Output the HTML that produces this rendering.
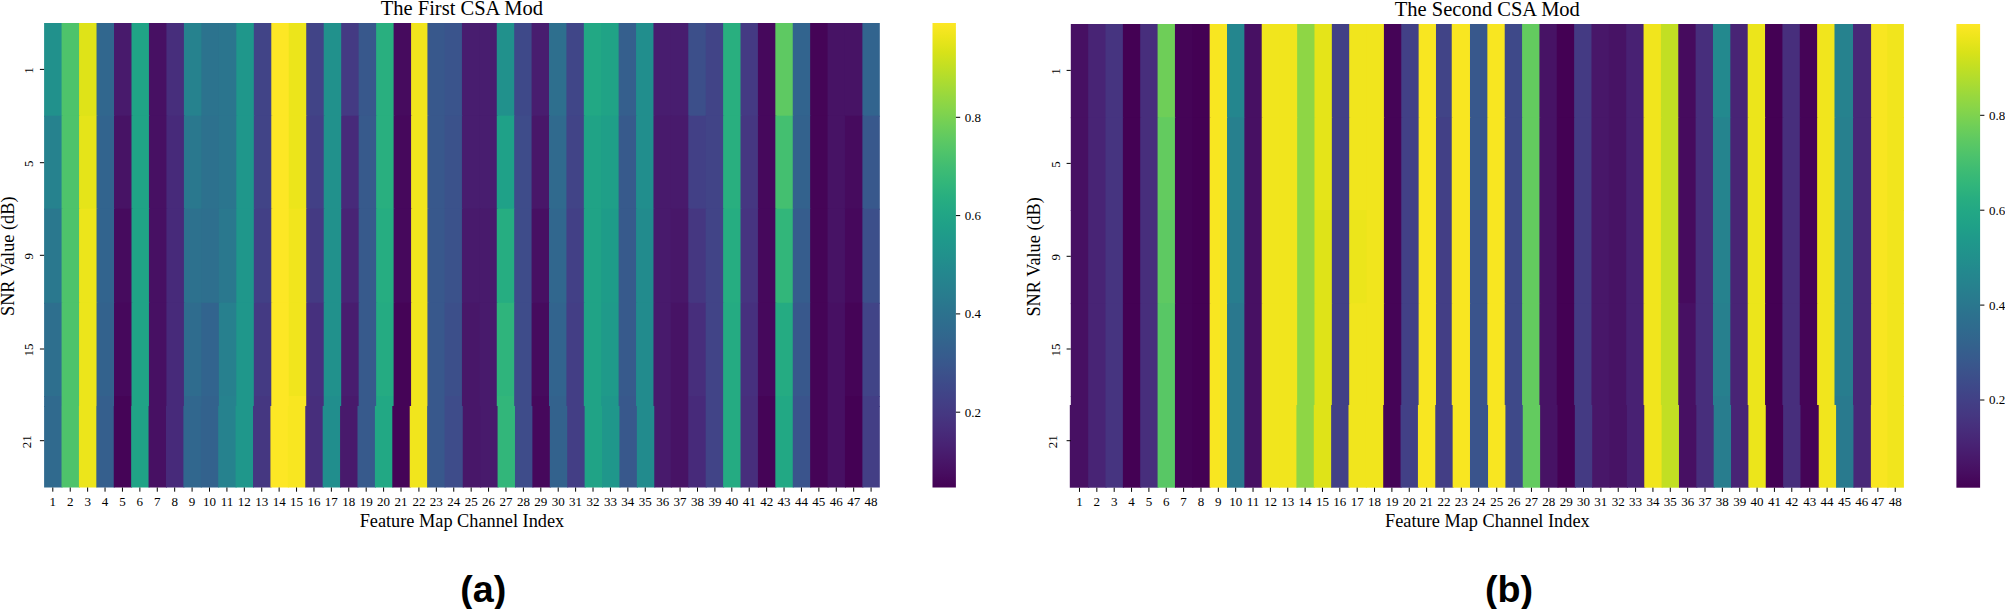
<!DOCTYPE html>
<html><head><meta charset="utf-8"><title>CSA Mod heatmaps</title>
<style>
html,body{margin:0;padding:0;background:#fff;}
svg{display:block;}
text{fill:#000;}
.tk{font-family:"Liberation Serif",serif;font-size:13px;}
.ti{font-family:"Liberation Serif",serif;font-size:20.5px;}
.al{font-family:"Liberation Serif",serif;font-size:18.3px;}
.cap{font-family:"Liberation Sans",sans-serif;font-weight:bold;font-size:37.7px;}
</style></head><body>
<svg width="2005" height="609" viewBox="0 0 2005 609">
<defs><linearGradient id="vg" x1="0" y1="0" x2="0" y2="1"><stop offset="0.000" stop-color="#fde725"/><stop offset="0.031" stop-color="#ece51b"/><stop offset="0.062" stop-color="#d8e219"/><stop offset="0.094" stop-color="#c2df23"/><stop offset="0.125" stop-color="#addc30"/><stop offset="0.156" stop-color="#98d83e"/><stop offset="0.188" stop-color="#84d44b"/><stop offset="0.219" stop-color="#70cf57"/><stop offset="0.250" stop-color="#5ec962"/><stop offset="0.281" stop-color="#4ec36b"/><stop offset="0.312" stop-color="#3fbc73"/><stop offset="0.344" stop-color="#32b67a"/><stop offset="0.375" stop-color="#28ae80"/><stop offset="0.406" stop-color="#22a785"/><stop offset="0.438" stop-color="#1fa088"/><stop offset="0.469" stop-color="#1f988b"/><stop offset="0.500" stop-color="#21918c"/><stop offset="0.531" stop-color="#23898e"/><stop offset="0.562" stop-color="#26828e"/><stop offset="0.594" stop-color="#297a8e"/><stop offset="0.625" stop-color="#2c728e"/><stop offset="0.656" stop-color="#2f6b8e"/><stop offset="0.688" stop-color="#33638d"/><stop offset="0.719" stop-color="#375b8d"/><stop offset="0.750" stop-color="#3b528b"/><stop offset="0.781" stop-color="#3e4989"/><stop offset="0.812" stop-color="#424086"/><stop offset="0.844" stop-color="#453781"/><stop offset="0.875" stop-color="#472d7b"/><stop offset="0.906" stop-color="#482374"/><stop offset="0.938" stop-color="#48186a"/><stop offset="0.969" stop-color="#470d60"/><stop offset="1.000" stop-color="#440154"/></linearGradient></defs>
<g>
<rect x="44.10" y="23.00" width="18.48" height="93.70" fill="#21918c"/>
<rect x="61.58" y="23.00" width="18.48" height="93.70" fill="#4ec36b"/>
<rect x="79.05" y="23.00" width="18.48" height="93.70" fill="#dfe318"/>
<rect x="96.53" y="23.00" width="18.48" height="93.70" fill="#31678e"/>
<rect x="114.00" y="23.00" width="18.48" height="93.70" fill="#481a6c"/>
<rect x="131.48" y="23.00" width="18.48" height="93.70" fill="#20a386"/>
<rect x="148.95" y="23.00" width="18.48" height="93.70" fill="#471063"/>
<rect x="166.43" y="23.00" width="18.48" height="93.70" fill="#472e7c"/>
<rect x="183.90" y="23.00" width="18.48" height="93.70" fill="#26828e"/>
<rect x="201.38" y="23.00" width="18.48" height="93.70" fill="#2c738e"/>
<rect x="218.85" y="23.00" width="18.48" height="93.70" fill="#2b758e"/>
<rect x="236.33" y="23.00" width="18.48" height="93.70" fill="#1f978b"/>
<rect x="253.81" y="23.00" width="18.48" height="93.70" fill="#414487"/>
<rect x="271.28" y="23.00" width="18.48" height="93.70" fill="#fde725"/>
<rect x="288.76" y="23.00" width="18.48" height="93.70" fill="#ece51b"/>
<rect x="306.23" y="23.00" width="18.48" height="93.70" fill="#414487"/>
<rect x="323.71" y="23.00" width="18.48" height="93.70" fill="#21918c"/>
<rect x="341.18" y="23.00" width="18.48" height="93.70" fill="#443a83"/>
<rect x="358.66" y="23.00" width="18.48" height="93.70" fill="#38588c"/>
<rect x="376.13" y="23.00" width="18.48" height="93.70" fill="#29af7f"/>
<rect x="393.61" y="23.00" width="18.48" height="93.70" fill="#460b5e"/>
<rect x="411.08" y="23.00" width="17.35" height="93.70" fill="#f1e51d"/>
<rect x="427.43" y="23.00" width="18.11" height="93.70" fill="#38588c"/>
<rect x="444.54" y="23.00" width="18.41" height="93.70" fill="#3a548c"/>
<rect x="461.95" y="23.00" width="18.41" height="93.70" fill="#481d6f"/>
<rect x="479.36" y="23.00" width="18.41" height="93.70" fill="#481d6f"/>
<rect x="496.77" y="23.00" width="18.41" height="93.70" fill="#21918c"/>
<rect x="514.18" y="23.00" width="18.41" height="93.70" fill="#3e4989"/>
<rect x="531.59" y="23.00" width="18.41" height="93.70" fill="#481d6f"/>
<rect x="549.00" y="23.00" width="18.41" height="93.70" fill="#2e6f8e"/>
<rect x="566.41" y="23.00" width="18.41" height="93.70" fill="#404688"/>
<rect x="583.82" y="23.00" width="18.41" height="93.70" fill="#22a884"/>
<rect x="601.23" y="23.00" width="18.41" height="93.70" fill="#20a386"/>
<rect x="618.64" y="23.00" width="18.41" height="93.70" fill="#355f8d"/>
<rect x="636.05" y="23.00" width="18.41" height="93.70" fill="#218e8d"/>
<rect x="653.46" y="23.00" width="18.41" height="93.70" fill="#481d6f"/>
<rect x="670.88" y="23.00" width="18.41" height="93.70" fill="#481d6f"/>
<rect x="688.29" y="23.00" width="18.41" height="93.70" fill="#3c4f8a"/>
<rect x="705.70" y="23.00" width="18.41" height="93.70" fill="#414487"/>
<rect x="723.11" y="23.00" width="18.41" height="93.70" fill="#29af7f"/>
<rect x="740.52" y="23.00" width="18.41" height="93.70" fill="#443a83"/>
<rect x="757.93" y="23.00" width="18.41" height="93.70" fill="#46085c"/>
<rect x="775.34" y="23.00" width="18.41" height="93.70" fill="#5ec962"/>
<rect x="792.75" y="23.00" width="18.41" height="93.70" fill="#32648e"/>
<rect x="810.16" y="23.00" width="18.41" height="93.70" fill="#450457"/>
<rect x="827.57" y="23.00" width="18.41" height="93.70" fill="#471365"/>
<rect x="844.98" y="23.00" width="18.41" height="93.70" fill="#471365"/>
<rect x="862.39" y="23.00" width="17.41" height="93.70" fill="#32648e"/>
<rect x="44.10" y="115.70" width="18.48" height="94.00" fill="#26828e"/>
<rect x="61.58" y="115.70" width="18.48" height="94.00" fill="#4ec36b"/>
<rect x="79.05" y="115.70" width="18.48" height="94.00" fill="#e5e419"/>
<rect x="96.53" y="115.70" width="18.48" height="94.00" fill="#32648e"/>
<rect x="114.00" y="115.70" width="18.48" height="94.00" fill="#471365"/>
<rect x="131.48" y="115.70" width="18.48" height="94.00" fill="#20a386"/>
<rect x="148.95" y="115.70" width="18.48" height="94.00" fill="#471063"/>
<rect x="166.43" y="115.70" width="18.48" height="94.00" fill="#472a7a"/>
<rect x="183.90" y="115.70" width="18.48" height="94.00" fill="#2a788e"/>
<rect x="201.38" y="115.70" width="18.48" height="94.00" fill="#2d718e"/>
<rect x="218.85" y="115.70" width="18.48" height="94.00" fill="#2b758e"/>
<rect x="236.33" y="115.70" width="18.48" height="94.00" fill="#1f978b"/>
<rect x="253.81" y="115.70" width="18.48" height="94.00" fill="#414487"/>
<rect x="271.28" y="115.70" width="18.48" height="94.00" fill="#fde725"/>
<rect x="288.76" y="115.70" width="18.48" height="94.00" fill="#ece51b"/>
<rect x="306.23" y="115.70" width="18.48" height="94.00" fill="#424086"/>
<rect x="323.71" y="115.70" width="18.48" height="94.00" fill="#21918c"/>
<rect x="341.18" y="115.70" width="18.48" height="94.00" fill="#472a7a"/>
<rect x="358.66" y="115.70" width="18.48" height="94.00" fill="#375a8c"/>
<rect x="376.13" y="115.70" width="18.48" height="94.00" fill="#29af7f"/>
<rect x="393.61" y="115.70" width="18.48" height="94.00" fill="#46085c"/>
<rect x="411.08" y="115.70" width="17.35" height="94.00" fill="#f1e51d"/>
<rect x="427.43" y="115.70" width="18.11" height="94.00" fill="#38588c"/>
<rect x="444.54" y="115.70" width="18.41" height="94.00" fill="#3b528b"/>
<rect x="461.95" y="115.70" width="18.41" height="94.00" fill="#481d6f"/>
<rect x="479.36" y="115.70" width="18.41" height="94.00" fill="#481d6f"/>
<rect x="496.77" y="115.70" width="18.41" height="94.00" fill="#1fa188"/>
<rect x="514.18" y="115.70" width="18.41" height="94.00" fill="#3e4c8a"/>
<rect x="531.59" y="115.70" width="18.41" height="94.00" fill="#481769"/>
<rect x="549.00" y="115.70" width="18.41" height="94.00" fill="#306a8e"/>
<rect x="566.41" y="115.70" width="18.41" height="94.00" fill="#414487"/>
<rect x="583.82" y="115.70" width="18.41" height="94.00" fill="#20a386"/>
<rect x="601.23" y="115.70" width="18.41" height="94.00" fill="#1f9f88"/>
<rect x="618.64" y="115.70" width="18.41" height="94.00" fill="#375a8c"/>
<rect x="636.05" y="115.70" width="18.41" height="94.00" fill="#218e8d"/>
<rect x="653.46" y="115.70" width="18.41" height="94.00" fill="#481a6c"/>
<rect x="670.88" y="115.70" width="18.41" height="94.00" fill="#481a6c"/>
<rect x="688.29" y="115.70" width="18.41" height="94.00" fill="#424086"/>
<rect x="705.70" y="115.70" width="18.41" height="94.00" fill="#414487"/>
<rect x="723.11" y="115.70" width="18.41" height="94.00" fill="#29af7f"/>
<rect x="740.52" y="115.70" width="18.41" height="94.00" fill="#453781"/>
<rect x="757.93" y="115.70" width="18.41" height="94.00" fill="#46085c"/>
<rect x="775.34" y="115.70" width="18.41" height="94.00" fill="#44bf70"/>
<rect x="792.75" y="115.70" width="18.41" height="94.00" fill="#33628d"/>
<rect x="810.16" y="115.70" width="18.41" height="94.00" fill="#450457"/>
<rect x="827.57" y="115.70" width="18.41" height="94.00" fill="#471365"/>
<rect x="844.98" y="115.70" width="18.41" height="94.00" fill="#460b5e"/>
<rect x="862.39" y="115.70" width="17.41" height="94.00" fill="#38588c"/>
<rect x="44.10" y="208.70" width="18.48" height="95.10" fill="#2a788e"/>
<rect x="61.58" y="208.70" width="18.48" height="95.10" fill="#4ec36b"/>
<rect x="79.05" y="208.70" width="18.48" height="95.10" fill="#ece51b"/>
<rect x="96.53" y="208.70" width="18.48" height="95.10" fill="#32648e"/>
<rect x="114.00" y="208.70" width="18.48" height="95.10" fill="#460b5e"/>
<rect x="131.48" y="208.70" width="18.48" height="95.10" fill="#20a386"/>
<rect x="148.95" y="208.70" width="18.48" height="95.10" fill="#471063"/>
<rect x="166.43" y="208.70" width="18.48" height="95.10" fill="#472a7a"/>
<rect x="183.90" y="208.70" width="18.48" height="95.10" fill="#2d718e"/>
<rect x="201.38" y="208.70" width="18.48" height="95.10" fill="#2e6f8e"/>
<rect x="218.85" y="208.70" width="18.48" height="95.10" fill="#2a788e"/>
<rect x="236.33" y="208.70" width="18.48" height="95.10" fill="#1f978b"/>
<rect x="253.81" y="208.70" width="18.48" height="95.10" fill="#424086"/>
<rect x="271.28" y="208.70" width="18.48" height="95.10" fill="#fde725"/>
<rect x="288.76" y="208.70" width="18.48" height="95.10" fill="#f1e51d"/>
<rect x="306.23" y="208.70" width="18.48" height="95.10" fill="#443a83"/>
<rect x="323.71" y="208.70" width="18.48" height="95.10" fill="#21918c"/>
<rect x="341.18" y="208.70" width="18.48" height="95.10" fill="#482475"/>
<rect x="358.66" y="208.70" width="18.48" height="95.10" fill="#375a8c"/>
<rect x="376.13" y="208.70" width="18.48" height="95.10" fill="#26ad81"/>
<rect x="393.61" y="208.70" width="18.48" height="95.10" fill="#46085c"/>
<rect x="411.08" y="208.70" width="17.35" height="95.10" fill="#f1e51d"/>
<rect x="427.43" y="208.70" width="18.11" height="95.10" fill="#38588c"/>
<rect x="444.54" y="208.70" width="18.41" height="95.10" fill="#3b528b"/>
<rect x="461.95" y="208.70" width="18.41" height="95.10" fill="#481a6c"/>
<rect x="479.36" y="208.70" width="18.41" height="95.10" fill="#481a6c"/>
<rect x="496.77" y="208.70" width="18.41" height="95.10" fill="#26ad81"/>
<rect x="514.18" y="208.70" width="18.41" height="95.10" fill="#3e4c8a"/>
<rect x="531.59" y="208.70" width="18.41" height="95.10" fill="#471063"/>
<rect x="549.00" y="208.70" width="18.41" height="95.10" fill="#31678e"/>
<rect x="566.41" y="208.70" width="18.41" height="95.10" fill="#424086"/>
<rect x="583.82" y="208.70" width="18.41" height="95.10" fill="#20a386"/>
<rect x="601.23" y="208.70" width="18.41" height="95.10" fill="#1e9c89"/>
<rect x="618.64" y="208.70" width="18.41" height="95.10" fill="#375a8c"/>
<rect x="636.05" y="208.70" width="18.41" height="95.10" fill="#228b8d"/>
<rect x="653.46" y="208.70" width="18.41" height="95.10" fill="#481a6c"/>
<rect x="670.88" y="208.70" width="18.41" height="95.10" fill="#481769"/>
<rect x="688.29" y="208.70" width="18.41" height="95.10" fill="#453781"/>
<rect x="705.70" y="208.70" width="18.41" height="95.10" fill="#414487"/>
<rect x="723.11" y="208.70" width="18.41" height="95.10" fill="#26ad81"/>
<rect x="740.52" y="208.70" width="18.41" height="95.10" fill="#463480"/>
<rect x="757.93" y="208.70" width="18.41" height="95.10" fill="#46085c"/>
<rect x="775.34" y="208.70" width="18.41" height="95.10" fill="#32b67a"/>
<rect x="792.75" y="208.70" width="18.41" height="95.10" fill="#365d8d"/>
<rect x="810.16" y="208.70" width="18.41" height="95.10" fill="#450457"/>
<rect x="827.57" y="208.70" width="18.41" height="95.10" fill="#471365"/>
<rect x="844.98" y="208.70" width="18.41" height="95.10" fill="#46085c"/>
<rect x="862.39" y="208.70" width="17.41" height="95.10" fill="#3c4f8a"/>
<rect x="44.10" y="302.80" width="18.48" height="94.20" fill="#2e6f8e"/>
<rect x="61.58" y="302.80" width="18.48" height="94.20" fill="#4ec36b"/>
<rect x="79.05" y="302.80" width="18.48" height="94.20" fill="#ece51b"/>
<rect x="96.53" y="302.80" width="18.48" height="94.20" fill="#33628d"/>
<rect x="114.00" y="302.80" width="18.48" height="94.20" fill="#46085c"/>
<rect x="131.48" y="302.80" width="18.48" height="94.20" fill="#20a386"/>
<rect x="148.95" y="302.80" width="18.48" height="94.20" fill="#471063"/>
<rect x="166.43" y="302.80" width="18.48" height="94.20" fill="#472a7a"/>
<rect x="183.90" y="302.80" width="18.48" height="94.20" fill="#2f6c8e"/>
<rect x="201.38" y="302.80" width="18.48" height="94.20" fill="#32648e"/>
<rect x="218.85" y="302.80" width="18.48" height="94.20" fill="#27808e"/>
<rect x="236.33" y="302.80" width="18.48" height="94.20" fill="#1f978b"/>
<rect x="253.81" y="302.80" width="18.48" height="94.20" fill="#443a83"/>
<rect x="271.28" y="302.80" width="18.48" height="94.20" fill="#fde725"/>
<rect x="288.76" y="302.80" width="18.48" height="94.20" fill="#f1e51d"/>
<rect x="306.23" y="302.80" width="18.48" height="94.20" fill="#46307e"/>
<rect x="323.71" y="302.80" width="18.48" height="94.20" fill="#21918c"/>
<rect x="341.18" y="302.80" width="18.48" height="94.20" fill="#481d6f"/>
<rect x="358.66" y="302.80" width="18.48" height="94.20" fill="#375a8c"/>
<rect x="376.13" y="302.80" width="18.48" height="94.20" fill="#25ab82"/>
<rect x="393.61" y="302.80" width="18.48" height="94.20" fill="#450457"/>
<rect x="411.08" y="302.80" width="17.35" height="94.20" fill="#f1e51d"/>
<rect x="427.43" y="302.80" width="18.11" height="94.20" fill="#38588c"/>
<rect x="444.54" y="302.80" width="18.41" height="94.20" fill="#3c4f8a"/>
<rect x="461.95" y="302.80" width="18.41" height="94.20" fill="#481769"/>
<rect x="479.36" y="302.80" width="18.41" height="94.20" fill="#481a6c"/>
<rect x="496.77" y="302.80" width="18.41" height="94.20" fill="#2fb47c"/>
<rect x="514.18" y="302.80" width="18.41" height="94.20" fill="#3e4c8a"/>
<rect x="531.59" y="302.80" width="18.41" height="94.20" fill="#460b5e"/>
<rect x="549.00" y="302.80" width="18.41" height="94.20" fill="#32648e"/>
<rect x="566.41" y="302.80" width="18.41" height="94.20" fill="#433e85"/>
<rect x="583.82" y="302.80" width="18.41" height="94.20" fill="#20a386"/>
<rect x="601.23" y="302.80" width="18.41" height="94.20" fill="#1f9a8a"/>
<rect x="618.64" y="302.80" width="18.41" height="94.20" fill="#375a8c"/>
<rect x="636.05" y="302.80" width="18.41" height="94.20" fill="#228b8d"/>
<rect x="653.46" y="302.80" width="18.41" height="94.20" fill="#481a6c"/>
<rect x="670.88" y="302.80" width="18.41" height="94.20" fill="#471365"/>
<rect x="688.29" y="302.80" width="18.41" height="94.20" fill="#472e7c"/>
<rect x="705.70" y="302.80" width="18.41" height="94.20" fill="#414487"/>
<rect x="723.11" y="302.80" width="18.41" height="94.20" fill="#25ab82"/>
<rect x="740.52" y="302.80" width="18.41" height="94.20" fill="#46307e"/>
<rect x="757.93" y="302.80" width="18.41" height="94.20" fill="#46085c"/>
<rect x="775.34" y="302.80" width="18.41" height="94.20" fill="#25ab82"/>
<rect x="792.75" y="302.80" width="18.41" height="94.20" fill="#38588c"/>
<rect x="810.16" y="302.80" width="18.41" height="94.20" fill="#450457"/>
<rect x="827.57" y="302.80" width="18.41" height="94.20" fill="#471063"/>
<rect x="844.98" y="302.80" width="18.41" height="94.20" fill="#450457"/>
<rect x="862.39" y="302.80" width="17.41" height="94.20" fill="#414487"/>
<rect x="44.10" y="396.00" width="18.48" height="11.00" fill="#306a8e"/>
<rect x="61.58" y="396.00" width="18.48" height="11.00" fill="#4ec36b"/>
<rect x="79.05" y="396.00" width="18.48" height="11.00" fill="#ece51b"/>
<rect x="96.53" y="396.00" width="18.48" height="11.00" fill="#355f8d"/>
<rect x="114.00" y="396.00" width="18.48" height="11.00" fill="#450457"/>
<rect x="131.48" y="396.00" width="18.48" height="11.00" fill="#20a386"/>
<rect x="148.95" y="396.00" width="18.48" height="11.00" fill="#471063"/>
<rect x="166.43" y="396.00" width="18.48" height="11.00" fill="#472a7a"/>
<rect x="183.90" y="396.00" width="18.48" height="11.00" fill="#31678e"/>
<rect x="201.38" y="396.00" width="18.48" height="11.00" fill="#33628d"/>
<rect x="218.85" y="396.00" width="18.48" height="11.00" fill="#26828e"/>
<rect x="236.33" y="396.00" width="18.48" height="11.00" fill="#1f978b"/>
<rect x="253.81" y="396.00" width="18.48" height="11.00" fill="#453781"/>
<rect x="271.28" y="396.00" width="18.48" height="11.00" fill="#fde725"/>
<rect x="288.76" y="396.00" width="18.48" height="11.00" fill="#f8e621"/>
<rect x="306.23" y="396.00" width="18.48" height="11.00" fill="#472e7c"/>
<rect x="323.71" y="396.00" width="18.48" height="11.00" fill="#218e8d"/>
<rect x="341.18" y="396.00" width="18.48" height="11.00" fill="#481a6c"/>
<rect x="358.66" y="396.00" width="18.48" height="11.00" fill="#375a8c"/>
<rect x="376.13" y="396.00" width="18.48" height="11.00" fill="#22a884"/>
<rect x="393.61" y="396.00" width="18.48" height="11.00" fill="#450457"/>
<rect x="411.08" y="396.00" width="17.35" height="11.00" fill="#f1e51d"/>
<rect x="427.43" y="396.00" width="18.11" height="11.00" fill="#38588c"/>
<rect x="444.54" y="396.00" width="18.41" height="11.00" fill="#3e4c8a"/>
<rect x="461.95" y="396.00" width="18.41" height="11.00" fill="#481769"/>
<rect x="479.36" y="396.00" width="18.41" height="11.00" fill="#481a6c"/>
<rect x="496.77" y="396.00" width="18.41" height="11.00" fill="#32b67a"/>
<rect x="514.18" y="396.00" width="18.41" height="11.00" fill="#3e4c8a"/>
<rect x="531.59" y="396.00" width="18.41" height="11.00" fill="#46085c"/>
<rect x="549.00" y="396.00" width="18.41" height="11.00" fill="#33628d"/>
<rect x="566.41" y="396.00" width="18.41" height="11.00" fill="#433e85"/>
<rect x="583.82" y="396.00" width="18.41" height="11.00" fill="#20a386"/>
<rect x="601.23" y="396.00" width="18.41" height="11.00" fill="#1f978b"/>
<rect x="618.64" y="396.00" width="18.41" height="11.00" fill="#38588c"/>
<rect x="636.05" y="396.00" width="18.41" height="11.00" fill="#228b8d"/>
<rect x="653.46" y="396.00" width="18.41" height="11.00" fill="#481a6c"/>
<rect x="670.88" y="396.00" width="18.41" height="11.00" fill="#471365"/>
<rect x="688.29" y="396.00" width="18.41" height="11.00" fill="#472a7a"/>
<rect x="705.70" y="396.00" width="18.41" height="11.00" fill="#414487"/>
<rect x="723.11" y="396.00" width="18.41" height="11.00" fill="#25ab82"/>
<rect x="740.52" y="396.00" width="18.41" height="11.00" fill="#472e7c"/>
<rect x="757.93" y="396.00" width="18.41" height="11.00" fill="#450457"/>
<rect x="775.34" y="396.00" width="18.41" height="11.00" fill="#22a884"/>
<rect x="792.75" y="396.00" width="18.41" height="11.00" fill="#3a548c"/>
<rect x="810.16" y="396.00" width="18.41" height="11.00" fill="#450457"/>
<rect x="827.57" y="396.00" width="18.41" height="11.00" fill="#471063"/>
<rect x="844.98" y="396.00" width="18.41" height="11.00" fill="#440154"/>
<rect x="862.39" y="396.00" width="17.41" height="11.00" fill="#433e85"/>
<rect x="44.10" y="406.00" width="18.41" height="81.50" fill="#306a8e"/>
<rect x="61.51" y="406.00" width="18.41" height="81.50" fill="#4ec36b"/>
<rect x="78.92" y="406.00" width="18.41" height="81.50" fill="#ece51b"/>
<rect x="96.33" y="406.00" width="18.41" height="81.50" fill="#355f8d"/>
<rect x="113.74" y="406.00" width="18.41" height="81.50" fill="#450457"/>
<rect x="131.15" y="406.00" width="18.41" height="81.50" fill="#20a386"/>
<rect x="148.56" y="406.00" width="18.41" height="81.50" fill="#471063"/>
<rect x="165.97" y="406.00" width="18.41" height="81.50" fill="#472a7a"/>
<rect x="183.38" y="406.00" width="18.41" height="81.50" fill="#31678e"/>
<rect x="200.79" y="406.00" width="18.41" height="81.50" fill="#33628d"/>
<rect x="218.20" y="406.00" width="18.41" height="81.50" fill="#26828e"/>
<rect x="235.61" y="406.00" width="18.41" height="81.50" fill="#1f978b"/>
<rect x="253.03" y="406.00" width="18.41" height="81.50" fill="#453781"/>
<rect x="270.44" y="406.00" width="18.41" height="81.50" fill="#fde725"/>
<rect x="287.85" y="406.00" width="18.41" height="81.50" fill="#f8e621"/>
<rect x="305.26" y="406.00" width="18.41" height="81.50" fill="#472e7c"/>
<rect x="322.67" y="406.00" width="18.41" height="81.50" fill="#218e8d"/>
<rect x="340.08" y="406.00" width="18.41" height="81.50" fill="#481a6c"/>
<rect x="357.49" y="406.00" width="18.41" height="81.50" fill="#375a8c"/>
<rect x="374.90" y="406.00" width="18.41" height="81.50" fill="#22a884"/>
<rect x="392.31" y="406.00" width="18.41" height="81.50" fill="#450457"/>
<rect x="409.72" y="406.00" width="18.41" height="81.50" fill="#f1e51d"/>
<rect x="427.13" y="406.00" width="18.41" height="81.50" fill="#38588c"/>
<rect x="444.54" y="406.00" width="19.21" height="81.50" fill="#3e4c8a"/>
<rect x="462.75" y="406.00" width="18.41" height="81.50" fill="#481769"/>
<rect x="480.16" y="406.00" width="18.41" height="81.50" fill="#481a6c"/>
<rect x="497.57" y="406.00" width="18.41" height="81.50" fill="#32b67a"/>
<rect x="514.98" y="406.00" width="18.41" height="81.50" fill="#3e4c8a"/>
<rect x="532.39" y="406.00" width="18.41" height="81.50" fill="#46085c"/>
<rect x="549.80" y="406.00" width="18.41" height="81.50" fill="#33628d"/>
<rect x="567.21" y="406.00" width="18.41" height="81.50" fill="#433e85"/>
<rect x="584.62" y="406.00" width="18.41" height="81.50" fill="#20a386"/>
<rect x="602.03" y="406.00" width="18.41" height="81.50" fill="#1f978b"/>
<rect x="619.44" y="406.00" width="18.41" height="81.50" fill="#38588c"/>
<rect x="636.85" y="406.00" width="18.41" height="81.50" fill="#228b8d"/>
<rect x="654.26" y="406.00" width="17.61" height="81.50" fill="#481a6c"/>
<rect x="670.88" y="406.00" width="18.41" height="81.50" fill="#471365"/>
<rect x="688.29" y="406.00" width="18.41" height="81.50" fill="#472a7a"/>
<rect x="705.70" y="406.00" width="18.41" height="81.50" fill="#414487"/>
<rect x="723.11" y="406.00" width="18.41" height="81.50" fill="#25ab82"/>
<rect x="740.52" y="406.00" width="18.41" height="81.50" fill="#472e7c"/>
<rect x="757.93" y="406.00" width="18.41" height="81.50" fill="#450457"/>
<rect x="775.34" y="406.00" width="18.41" height="81.50" fill="#22a884"/>
<rect x="792.75" y="406.00" width="18.41" height="81.50" fill="#3a548c"/>
<rect x="810.16" y="406.00" width="18.41" height="81.50" fill="#450457"/>
<rect x="827.57" y="406.00" width="18.41" height="81.50" fill="#471063"/>
<rect x="844.98" y="406.00" width="18.41" height="81.50" fill="#440154"/>
<rect x="862.39" y="406.00" width="17.41" height="81.50" fill="#433e85"/>
<rect x="1070.80" y="24.00" width="18.36" height="94.20" fill="#471063"/>
<rect x="1088.16" y="24.00" width="18.36" height="94.20" fill="#482475"/>
<rect x="1105.51" y="24.00" width="18.36" height="94.20" fill="#463480"/>
<rect x="1122.87" y="24.00" width="18.36" height="94.20" fill="#440154"/>
<rect x="1140.22" y="24.00" width="18.36" height="94.20" fill="#472e7c"/>
<rect x="1157.58" y="24.00" width="18.36" height="94.20" fill="#6ece58"/>
<rect x="1174.94" y="24.00" width="18.36" height="94.20" fill="#450457"/>
<rect x="1192.29" y="24.00" width="18.36" height="94.20" fill="#440154"/>
<rect x="1209.65" y="24.00" width="18.36" height="94.20" fill="#f8e621"/>
<rect x="1227.01" y="24.00" width="18.36" height="94.20" fill="#24868e"/>
<rect x="1244.36" y="24.00" width="18.36" height="94.20" fill="#471063"/>
<rect x="1261.72" y="24.00" width="18.36" height="94.20" fill="#f1e51d"/>
<rect x="1279.08" y="24.00" width="19.06" height="94.20" fill="#f1e51d"/>
<rect x="1297.13" y="24.00" width="18.36" height="94.20" fill="#8ed645"/>
<rect x="1314.49" y="24.00" width="18.36" height="94.20" fill="#e5e419"/>
<rect x="1331.84" y="24.00" width="18.36" height="94.20" fill="#424086"/>
<rect x="1349.20" y="24.00" width="18.36" height="94.20" fill="#f1e51d"/>
<rect x="1366.56" y="24.00" width="18.36" height="94.20" fill="#f1e51d"/>
<rect x="1383.91" y="24.00" width="18.36" height="94.20" fill="#450457"/>
<rect x="1401.27" y="24.00" width="18.36" height="94.20" fill="#424086"/>
<rect x="1418.62" y="24.00" width="18.36" height="94.20" fill="#f8e621"/>
<rect x="1435.98" y="24.00" width="16.76" height="94.20" fill="#414487"/>
<rect x="1451.74" y="24.00" width="19.26" height="94.20" fill="#f8e621"/>
<rect x="1469.99" y="24.00" width="18.36" height="94.20" fill="#38588c"/>
<rect x="1487.35" y="24.00" width="18.36" height="94.20" fill="#f8e621"/>
<rect x="1504.71" y="24.00" width="18.36" height="94.20" fill="#3e4989"/>
<rect x="1522.06" y="24.00" width="18.36" height="94.20" fill="#63cb5f"/>
<rect x="1539.42" y="24.00" width="18.36" height="94.20" fill="#471365"/>
<rect x="1556.78" y="24.00" width="18.36" height="94.20" fill="#440154"/>
<rect x="1574.13" y="24.00" width="18.36" height="94.20" fill="#443a83"/>
<rect x="1591.49" y="24.00" width="18.36" height="94.20" fill="#481769"/>
<rect x="1608.84" y="24.00" width="18.36" height="94.20" fill="#471365"/>
<rect x="1626.20" y="24.00" width="18.36" height="94.20" fill="#482173"/>
<rect x="1643.56" y="24.00" width="18.36" height="94.20" fill="#f1e51d"/>
<rect x="1660.91" y="24.00" width="18.36" height="94.20" fill="#c2df23"/>
<rect x="1678.27" y="24.00" width="18.36" height="94.20" fill="#460b5e"/>
<rect x="1695.62" y="24.00" width="18.36" height="94.20" fill="#472e7c"/>
<rect x="1712.98" y="24.00" width="18.36" height="94.20" fill="#23898e"/>
<rect x="1730.34" y="24.00" width="18.36" height="94.20" fill="#482475"/>
<rect x="1747.69" y="24.00" width="18.36" height="94.20" fill="#ece51b"/>
<rect x="1765.05" y="24.00" width="18.36" height="94.20" fill="#440154"/>
<rect x="1782.41" y="24.00" width="18.36" height="94.20" fill="#472e7c"/>
<rect x="1799.76" y="24.00" width="18.36" height="94.20" fill="#450457"/>
<rect x="1817.12" y="24.00" width="18.36" height="94.20" fill="#f1e51d"/>
<rect x="1834.48" y="24.00" width="19.56" height="94.20" fill="#26828e"/>
<rect x="1853.03" y="24.00" width="19.06" height="94.20" fill="#482878"/>
<rect x="1871.09" y="24.00" width="17.16" height="94.20" fill="#f8e621"/>
<rect x="1887.24" y="24.00" width="16.66" height="94.20" fill="#f1e51d"/>
<rect x="1070.80" y="117.20" width="18.36" height="93.80" fill="#471063"/>
<rect x="1088.16" y="117.20" width="18.36" height="93.80" fill="#482475"/>
<rect x="1105.51" y="117.20" width="18.36" height="93.80" fill="#463480"/>
<rect x="1122.87" y="117.20" width="18.36" height="93.80" fill="#440154"/>
<rect x="1140.22" y="117.20" width="18.36" height="93.80" fill="#472e7c"/>
<rect x="1157.58" y="117.20" width="18.36" height="93.80" fill="#63cb5f"/>
<rect x="1174.94" y="117.20" width="18.36" height="93.80" fill="#450457"/>
<rect x="1192.29" y="117.20" width="18.36" height="93.80" fill="#440154"/>
<rect x="1209.65" y="117.20" width="18.36" height="93.80" fill="#f8e621"/>
<rect x="1227.01" y="117.20" width="18.36" height="93.80" fill="#27808e"/>
<rect x="1244.36" y="117.20" width="18.36" height="93.80" fill="#471063"/>
<rect x="1261.72" y="117.20" width="18.36" height="93.80" fill="#f1e51d"/>
<rect x="1279.08" y="117.20" width="19.06" height="93.80" fill="#f1e51d"/>
<rect x="1297.13" y="117.20" width="18.36" height="93.80" fill="#8ed645"/>
<rect x="1314.49" y="117.20" width="18.36" height="93.80" fill="#e5e419"/>
<rect x="1331.84" y="117.20" width="18.36" height="93.80" fill="#424086"/>
<rect x="1349.20" y="117.20" width="18.36" height="93.80" fill="#f1e51d"/>
<rect x="1366.56" y="117.20" width="18.36" height="93.80" fill="#f1e51d"/>
<rect x="1383.91" y="117.20" width="18.36" height="93.80" fill="#450457"/>
<rect x="1401.27" y="117.20" width="18.36" height="93.80" fill="#424086"/>
<rect x="1418.62" y="117.20" width="18.36" height="93.80" fill="#f8e621"/>
<rect x="1435.98" y="117.20" width="16.76" height="93.80" fill="#424086"/>
<rect x="1451.74" y="117.20" width="19.26" height="93.80" fill="#f8e621"/>
<rect x="1469.99" y="117.20" width="18.36" height="93.80" fill="#38588c"/>
<rect x="1487.35" y="117.20" width="18.36" height="93.80" fill="#f8e621"/>
<rect x="1504.71" y="117.20" width="18.36" height="93.80" fill="#3e4989"/>
<rect x="1522.06" y="117.20" width="18.36" height="93.80" fill="#63cb5f"/>
<rect x="1539.42" y="117.20" width="18.36" height="93.80" fill="#471365"/>
<rect x="1556.78" y="117.20" width="18.36" height="93.80" fill="#440154"/>
<rect x="1574.13" y="117.20" width="18.36" height="93.80" fill="#443a83"/>
<rect x="1591.49" y="117.20" width="18.36" height="93.80" fill="#481769"/>
<rect x="1608.84" y="117.20" width="18.36" height="93.80" fill="#471365"/>
<rect x="1626.20" y="117.20" width="18.36" height="93.80" fill="#482173"/>
<rect x="1643.56" y="117.20" width="18.36" height="93.80" fill="#f1e51d"/>
<rect x="1660.91" y="117.20" width="18.36" height="93.80" fill="#c2df23"/>
<rect x="1678.27" y="117.20" width="18.36" height="93.80" fill="#460b5e"/>
<rect x="1695.62" y="117.20" width="18.36" height="93.80" fill="#472e7c"/>
<rect x="1712.98" y="117.20" width="18.36" height="93.80" fill="#25848e"/>
<rect x="1730.34" y="117.20" width="18.36" height="93.80" fill="#482475"/>
<rect x="1747.69" y="117.20" width="18.36" height="93.80" fill="#ece51b"/>
<rect x="1765.05" y="117.20" width="18.36" height="93.80" fill="#440154"/>
<rect x="1782.41" y="117.20" width="18.36" height="93.80" fill="#472e7c"/>
<rect x="1799.76" y="117.20" width="18.36" height="93.80" fill="#450457"/>
<rect x="1817.12" y="117.20" width="18.36" height="93.80" fill="#f1e51d"/>
<rect x="1834.48" y="117.20" width="19.56" height="93.80" fill="#27808e"/>
<rect x="1853.03" y="117.20" width="19.06" height="93.80" fill="#482878"/>
<rect x="1871.09" y="117.20" width="17.16" height="93.80" fill="#f8e621"/>
<rect x="1887.24" y="117.20" width="16.66" height="93.80" fill="#f1e51d"/>
<rect x="1070.80" y="210.00" width="18.36" height="94.10" fill="#471063"/>
<rect x="1088.16" y="210.00" width="18.36" height="94.10" fill="#482475"/>
<rect x="1105.51" y="210.00" width="18.36" height="94.10" fill="#463480"/>
<rect x="1122.87" y="210.00" width="18.36" height="94.10" fill="#440154"/>
<rect x="1140.22" y="210.00" width="18.36" height="94.10" fill="#472e7c"/>
<rect x="1157.58" y="210.00" width="18.36" height="94.10" fill="#5ec962"/>
<rect x="1174.94" y="210.00" width="18.36" height="94.10" fill="#450457"/>
<rect x="1192.29" y="210.00" width="18.36" height="94.10" fill="#440154"/>
<rect x="1209.65" y="210.00" width="18.36" height="94.10" fill="#f8e621"/>
<rect x="1227.01" y="210.00" width="18.36" height="94.10" fill="#287d8e"/>
<rect x="1244.36" y="210.00" width="18.36" height="94.10" fill="#471063"/>
<rect x="1261.72" y="210.00" width="18.36" height="94.10" fill="#f1e51d"/>
<rect x="1279.08" y="210.00" width="19.06" height="94.10" fill="#f1e51d"/>
<rect x="1297.13" y="210.00" width="18.36" height="94.10" fill="#8ed645"/>
<rect x="1314.49" y="210.00" width="18.36" height="94.10" fill="#dfe318"/>
<rect x="1331.84" y="210.00" width="18.36" height="94.10" fill="#424086"/>
<rect x="1349.20" y="210.00" width="18.36" height="94.10" fill="#ece51b"/>
<rect x="1366.56" y="210.00" width="18.36" height="94.10" fill="#f1e51d"/>
<rect x="1383.91" y="210.00" width="18.36" height="94.10" fill="#450457"/>
<rect x="1401.27" y="210.00" width="18.36" height="94.10" fill="#424086"/>
<rect x="1418.62" y="210.00" width="18.36" height="94.10" fill="#f8e621"/>
<rect x="1435.98" y="210.00" width="16.76" height="94.10" fill="#433e85"/>
<rect x="1451.74" y="210.00" width="19.26" height="94.10" fill="#f8e621"/>
<rect x="1469.99" y="210.00" width="18.36" height="94.10" fill="#3a548c"/>
<rect x="1487.35" y="210.00" width="18.36" height="94.10" fill="#f8e621"/>
<rect x="1504.71" y="210.00" width="18.36" height="94.10" fill="#3e4989"/>
<rect x="1522.06" y="210.00" width="18.36" height="94.10" fill="#63cb5f"/>
<rect x="1539.42" y="210.00" width="18.36" height="94.10" fill="#471365"/>
<rect x="1556.78" y="210.00" width="18.36" height="94.10" fill="#440154"/>
<rect x="1574.13" y="210.00" width="18.36" height="94.10" fill="#443a83"/>
<rect x="1591.49" y="210.00" width="18.36" height="94.10" fill="#481769"/>
<rect x="1608.84" y="210.00" width="18.36" height="94.10" fill="#471365"/>
<rect x="1626.20" y="210.00" width="18.36" height="94.10" fill="#482173"/>
<rect x="1643.56" y="210.00" width="18.36" height="94.10" fill="#f1e51d"/>
<rect x="1660.91" y="210.00" width="18.36" height="94.10" fill="#c2df23"/>
<rect x="1678.27" y="210.00" width="18.36" height="94.10" fill="#460b5e"/>
<rect x="1695.62" y="210.00" width="18.36" height="94.10" fill="#472e7c"/>
<rect x="1712.98" y="210.00" width="18.36" height="94.10" fill="#26828e"/>
<rect x="1730.34" y="210.00" width="18.36" height="94.10" fill="#482475"/>
<rect x="1747.69" y="210.00" width="18.36" height="94.10" fill="#ece51b"/>
<rect x="1765.05" y="210.00" width="18.36" height="94.10" fill="#440154"/>
<rect x="1782.41" y="210.00" width="18.36" height="94.10" fill="#472e7c"/>
<rect x="1799.76" y="210.00" width="18.36" height="94.10" fill="#450457"/>
<rect x="1817.12" y="210.00" width="18.36" height="94.10" fill="#f1e51d"/>
<rect x="1834.48" y="210.00" width="19.56" height="94.10" fill="#287d8e"/>
<rect x="1853.03" y="210.00" width="19.06" height="94.10" fill="#482878"/>
<rect x="1871.09" y="210.00" width="17.16" height="94.10" fill="#f8e621"/>
<rect x="1887.24" y="210.00" width="16.66" height="94.10" fill="#f1e51d"/>
<rect x="1070.80" y="303.10" width="18.36" height="93.90" fill="#471063"/>
<rect x="1088.16" y="303.10" width="18.36" height="93.90" fill="#482475"/>
<rect x="1105.51" y="303.10" width="18.36" height="93.90" fill="#463480"/>
<rect x="1122.87" y="303.10" width="18.36" height="93.90" fill="#440154"/>
<rect x="1140.22" y="303.10" width="18.36" height="93.90" fill="#472e7c"/>
<rect x="1157.58" y="303.10" width="18.36" height="93.90" fill="#58c765"/>
<rect x="1174.94" y="303.10" width="18.36" height="93.90" fill="#450457"/>
<rect x="1192.29" y="303.10" width="18.36" height="93.90" fill="#440154"/>
<rect x="1209.65" y="303.10" width="18.36" height="93.90" fill="#f8e621"/>
<rect x="1227.01" y="303.10" width="18.36" height="93.90" fill="#2a788e"/>
<rect x="1244.36" y="303.10" width="18.36" height="93.90" fill="#471063"/>
<rect x="1261.72" y="303.10" width="18.36" height="93.90" fill="#f1e51d"/>
<rect x="1279.08" y="303.10" width="19.06" height="93.90" fill="#f1e51d"/>
<rect x="1297.13" y="303.10" width="18.36" height="93.90" fill="#8ed645"/>
<rect x="1314.49" y="303.10" width="18.36" height="93.90" fill="#dfe318"/>
<rect x="1331.84" y="303.10" width="18.36" height="93.90" fill="#424086"/>
<rect x="1349.20" y="303.10" width="18.36" height="93.90" fill="#f1e51d"/>
<rect x="1366.56" y="303.10" width="18.36" height="93.90" fill="#f1e51d"/>
<rect x="1383.91" y="303.10" width="18.36" height="93.90" fill="#450457"/>
<rect x="1401.27" y="303.10" width="18.36" height="93.90" fill="#424086"/>
<rect x="1418.62" y="303.10" width="18.36" height="93.90" fill="#f8e621"/>
<rect x="1435.98" y="303.10" width="16.76" height="93.90" fill="#433e85"/>
<rect x="1451.74" y="303.10" width="19.26" height="93.90" fill="#f8e621"/>
<rect x="1469.99" y="303.10" width="18.36" height="93.90" fill="#3a548c"/>
<rect x="1487.35" y="303.10" width="18.36" height="93.90" fill="#f8e621"/>
<rect x="1504.71" y="303.10" width="18.36" height="93.90" fill="#3e4989"/>
<rect x="1522.06" y="303.10" width="18.36" height="93.90" fill="#63cb5f"/>
<rect x="1539.42" y="303.10" width="18.36" height="93.90" fill="#471365"/>
<rect x="1556.78" y="303.10" width="18.36" height="93.90" fill="#440154"/>
<rect x="1574.13" y="303.10" width="18.36" height="93.90" fill="#443a83"/>
<rect x="1591.49" y="303.10" width="18.36" height="93.90" fill="#481769"/>
<rect x="1608.84" y="303.10" width="18.36" height="93.90" fill="#471365"/>
<rect x="1626.20" y="303.10" width="18.36" height="93.90" fill="#482173"/>
<rect x="1643.56" y="303.10" width="18.36" height="93.90" fill="#f1e51d"/>
<rect x="1660.91" y="303.10" width="18.36" height="93.90" fill="#c2df23"/>
<rect x="1678.27" y="303.10" width="18.36" height="93.90" fill="#471063"/>
<rect x="1695.62" y="303.10" width="18.36" height="93.90" fill="#472e7c"/>
<rect x="1712.98" y="303.10" width="18.36" height="93.90" fill="#27808e"/>
<rect x="1730.34" y="303.10" width="18.36" height="93.90" fill="#482475"/>
<rect x="1747.69" y="303.10" width="18.36" height="93.90" fill="#ece51b"/>
<rect x="1765.05" y="303.10" width="18.36" height="93.90" fill="#440154"/>
<rect x="1782.41" y="303.10" width="18.36" height="93.90" fill="#472e7c"/>
<rect x="1799.76" y="303.10" width="18.36" height="93.90" fill="#450457"/>
<rect x="1817.12" y="303.10" width="18.36" height="93.90" fill="#f1e51d"/>
<rect x="1834.48" y="303.10" width="19.56" height="93.90" fill="#287d8e"/>
<rect x="1853.03" y="303.10" width="19.06" height="93.90" fill="#482878"/>
<rect x="1871.09" y="303.10" width="17.16" height="93.90" fill="#f8e621"/>
<rect x="1887.24" y="303.10" width="16.66" height="93.90" fill="#f1e51d"/>
<rect x="1070.80" y="396.00" width="18.36" height="10.00" fill="#471063"/>
<rect x="1088.16" y="396.00" width="18.36" height="10.00" fill="#482475"/>
<rect x="1105.51" y="396.00" width="18.36" height="10.00" fill="#463480"/>
<rect x="1122.87" y="396.00" width="18.36" height="10.00" fill="#440154"/>
<rect x="1140.22" y="396.00" width="18.36" height="10.00" fill="#472e7c"/>
<rect x="1157.58" y="396.00" width="18.36" height="10.00" fill="#58c765"/>
<rect x="1174.94" y="396.00" width="18.36" height="10.00" fill="#450457"/>
<rect x="1192.29" y="396.00" width="18.36" height="10.00" fill="#440154"/>
<rect x="1209.65" y="396.00" width="18.36" height="10.00" fill="#f8e621"/>
<rect x="1227.01" y="396.00" width="18.36" height="10.00" fill="#2a788e"/>
<rect x="1244.36" y="396.00" width="18.36" height="10.00" fill="#471063"/>
<rect x="1261.72" y="396.00" width="18.36" height="10.00" fill="#f1e51d"/>
<rect x="1279.08" y="396.00" width="19.06" height="10.00" fill="#f1e51d"/>
<rect x="1297.13" y="396.00" width="18.36" height="10.00" fill="#8ed645"/>
<rect x="1314.49" y="396.00" width="18.36" height="10.00" fill="#dfe318"/>
<rect x="1331.84" y="396.00" width="18.36" height="10.00" fill="#424086"/>
<rect x="1349.20" y="396.00" width="18.36" height="10.00" fill="#f1e51d"/>
<rect x="1366.56" y="396.00" width="18.36" height="10.00" fill="#f1e51d"/>
<rect x="1383.91" y="396.00" width="18.36" height="10.00" fill="#450457"/>
<rect x="1401.27" y="396.00" width="18.36" height="10.00" fill="#424086"/>
<rect x="1418.62" y="396.00" width="18.36" height="10.00" fill="#f8e621"/>
<rect x="1435.98" y="396.00" width="16.76" height="10.00" fill="#433e85"/>
<rect x="1451.74" y="396.00" width="19.26" height="10.00" fill="#f8e621"/>
<rect x="1469.99" y="396.00" width="18.36" height="10.00" fill="#3a548c"/>
<rect x="1487.35" y="396.00" width="18.36" height="10.00" fill="#f8e621"/>
<rect x="1504.71" y="396.00" width="18.36" height="10.00" fill="#3e4989"/>
<rect x="1522.06" y="396.00" width="18.36" height="10.00" fill="#63cb5f"/>
<rect x="1539.42" y="396.00" width="18.36" height="10.00" fill="#471365"/>
<rect x="1556.78" y="396.00" width="18.36" height="10.00" fill="#440154"/>
<rect x="1574.13" y="396.00" width="18.36" height="10.00" fill="#443a83"/>
<rect x="1591.49" y="396.00" width="18.36" height="10.00" fill="#481769"/>
<rect x="1608.84" y="396.00" width="18.36" height="10.00" fill="#471365"/>
<rect x="1626.20" y="396.00" width="18.36" height="10.00" fill="#482173"/>
<rect x="1643.56" y="396.00" width="18.36" height="10.00" fill="#f1e51d"/>
<rect x="1660.91" y="396.00" width="18.36" height="10.00" fill="#c2df23"/>
<rect x="1678.27" y="396.00" width="18.36" height="10.00" fill="#471063"/>
<rect x="1695.62" y="396.00" width="18.36" height="10.00" fill="#472e7c"/>
<rect x="1712.98" y="396.00" width="18.36" height="10.00" fill="#287d8e"/>
<rect x="1730.34" y="396.00" width="18.36" height="10.00" fill="#482475"/>
<rect x="1747.69" y="396.00" width="18.36" height="10.00" fill="#ece51b"/>
<rect x="1765.05" y="396.00" width="18.36" height="10.00" fill="#440154"/>
<rect x="1782.41" y="396.00" width="18.36" height="10.00" fill="#472e7c"/>
<rect x="1799.76" y="396.00" width="18.36" height="10.00" fill="#450457"/>
<rect x="1817.12" y="396.00" width="18.36" height="10.00" fill="#f1e51d"/>
<rect x="1834.48" y="396.00" width="19.56" height="10.00" fill="#297a8e"/>
<rect x="1853.03" y="396.00" width="19.06" height="10.00" fill="#482878"/>
<rect x="1871.09" y="396.00" width="17.16" height="10.00" fill="#f8e621"/>
<rect x="1887.24" y="396.00" width="16.66" height="10.00" fill="#f1e51d"/>
<rect x="1069.80" y="405.00" width="19.36" height="82.70" fill="#471063"/>
<rect x="1088.16" y="405.00" width="18.36" height="82.70" fill="#482475"/>
<rect x="1105.51" y="405.00" width="18.36" height="82.70" fill="#463480"/>
<rect x="1122.87" y="405.00" width="18.36" height="82.70" fill="#440154"/>
<rect x="1140.22" y="405.00" width="18.36" height="82.70" fill="#472e7c"/>
<rect x="1157.58" y="405.00" width="18.36" height="82.70" fill="#58c765"/>
<rect x="1174.94" y="405.00" width="18.36" height="82.70" fill="#450457"/>
<rect x="1192.29" y="405.00" width="18.36" height="82.70" fill="#440154"/>
<rect x="1209.65" y="405.00" width="18.36" height="82.70" fill="#f8e621"/>
<rect x="1227.01" y="405.00" width="18.36" height="82.70" fill="#2a788e"/>
<rect x="1244.36" y="405.00" width="18.36" height="82.70" fill="#471063"/>
<rect x="1261.72" y="405.00" width="18.36" height="82.70" fill="#f1e51d"/>
<rect x="1279.08" y="405.00" width="18.36" height="82.70" fill="#f1e51d"/>
<rect x="1296.43" y="405.00" width="18.36" height="82.70" fill="#8ed645"/>
<rect x="1313.79" y="405.00" width="18.36" height="82.70" fill="#dfe318"/>
<rect x="1331.14" y="405.00" width="18.36" height="82.70" fill="#424086"/>
<rect x="1348.50" y="405.00" width="18.36" height="82.70" fill="#f1e51d"/>
<rect x="1365.86" y="405.00" width="18.36" height="82.70" fill="#f1e51d"/>
<rect x="1383.21" y="405.00" width="18.36" height="82.70" fill="#450457"/>
<rect x="1400.57" y="405.00" width="18.36" height="82.70" fill="#424086"/>
<rect x="1417.92" y="405.00" width="18.36" height="82.70" fill="#f8e621"/>
<rect x="1435.28" y="405.00" width="18.36" height="82.70" fill="#433e85"/>
<rect x="1452.64" y="405.00" width="18.36" height="82.70" fill="#f8e621"/>
<rect x="1469.99" y="405.00" width="19.06" height="82.70" fill="#3a548c"/>
<rect x="1488.05" y="405.00" width="18.36" height="82.70" fill="#f8e621"/>
<rect x="1505.41" y="405.00" width="18.36" height="82.70" fill="#3e4989"/>
<rect x="1522.76" y="405.00" width="18.36" height="82.70" fill="#63cb5f"/>
<rect x="1540.12" y="405.00" width="18.36" height="82.70" fill="#471365"/>
<rect x="1557.48" y="405.00" width="18.36" height="82.70" fill="#440154"/>
<rect x="1574.83" y="405.00" width="18.36" height="82.70" fill="#443a83"/>
<rect x="1592.19" y="405.00" width="18.36" height="82.70" fill="#481769"/>
<rect x="1609.54" y="405.00" width="18.36" height="82.70" fill="#471365"/>
<rect x="1626.90" y="405.00" width="18.36" height="82.70" fill="#482173"/>
<rect x="1644.26" y="405.00" width="18.36" height="82.70" fill="#f1e51d"/>
<rect x="1661.61" y="405.00" width="18.36" height="82.70" fill="#c2df23"/>
<rect x="1678.97" y="405.00" width="18.36" height="82.70" fill="#471063"/>
<rect x="1696.33" y="405.00" width="18.36" height="82.70" fill="#472e7c"/>
<rect x="1713.68" y="405.00" width="18.36" height="82.70" fill="#287d8e"/>
<rect x="1731.04" y="405.00" width="18.36" height="82.70" fill="#482475"/>
<rect x="1748.39" y="405.00" width="18.36" height="82.70" fill="#ece51b"/>
<rect x="1765.75" y="405.00" width="18.36" height="82.70" fill="#440154"/>
<rect x="1783.11" y="405.00" width="18.36" height="82.70" fill="#472e7c"/>
<rect x="1800.46" y="405.00" width="19.26" height="82.70" fill="#450457"/>
<rect x="1818.72" y="405.00" width="18.36" height="82.70" fill="#f1e51d"/>
<rect x="1836.08" y="405.00" width="18.36" height="82.70" fill="#297a8e"/>
<rect x="1853.43" y="405.00" width="18.46" height="82.70" fill="#482878"/>
<rect x="1870.89" y="405.00" width="17.56" height="82.70" fill="#f8e621"/>
<rect x="1887.44" y="405.00" width="16.46" height="82.70" fill="#f1e51d"/>
</g>
<rect x="932.5" y="23" width="23.4" height="464.5" fill="url(#vg)"/>
<rect x="1956.4" y="24" width="23.7" height="463.7" fill="url(#vg)"/>
<g stroke="#000" stroke-width="1">
<line x1="52.81" y1="487.50" x2="52.81" y2="491.70"/>
<line x1="70.22" y1="487.50" x2="70.22" y2="491.70"/>
<line x1="87.63" y1="487.50" x2="87.63" y2="491.70"/>
<line x1="105.04" y1="487.50" x2="105.04" y2="491.70"/>
<line x1="122.45" y1="487.50" x2="122.45" y2="491.70"/>
<line x1="139.86" y1="487.50" x2="139.86" y2="491.70"/>
<line x1="157.27" y1="487.50" x2="157.27" y2="491.70"/>
<line x1="174.68" y1="487.50" x2="174.68" y2="491.70"/>
<line x1="192.09" y1="487.50" x2="192.09" y2="491.70"/>
<line x1="209.50" y1="487.50" x2="209.50" y2="491.70"/>
<line x1="226.91" y1="487.50" x2="226.91" y2="491.70"/>
<line x1="244.32" y1="487.50" x2="244.32" y2="491.70"/>
<line x1="261.73" y1="487.50" x2="261.73" y2="491.70"/>
<line x1="279.14" y1="487.50" x2="279.14" y2="491.70"/>
<line x1="296.55" y1="487.50" x2="296.55" y2="491.70"/>
<line x1="313.96" y1="487.50" x2="313.96" y2="491.70"/>
<line x1="331.37" y1="487.50" x2="331.37" y2="491.70"/>
<line x1="348.78" y1="487.50" x2="348.78" y2="491.70"/>
<line x1="366.19" y1="487.50" x2="366.19" y2="491.70"/>
<line x1="383.60" y1="487.50" x2="383.60" y2="491.70"/>
<line x1="401.01" y1="487.50" x2="401.01" y2="491.70"/>
<line x1="418.92" y1="487.50" x2="418.92" y2="491.70"/>
<line x1="436.33" y1="487.50" x2="436.33" y2="491.70"/>
<line x1="453.74" y1="487.50" x2="453.74" y2="491.70"/>
<line x1="471.16" y1="487.50" x2="471.16" y2="491.70"/>
<line x1="488.57" y1="487.50" x2="488.57" y2="491.70"/>
<line x1="505.98" y1="487.50" x2="505.98" y2="491.70"/>
<line x1="523.39" y1="487.50" x2="523.39" y2="491.70"/>
<line x1="540.80" y1="487.50" x2="540.80" y2="491.70"/>
<line x1="558.21" y1="487.50" x2="558.21" y2="491.70"/>
<line x1="575.62" y1="487.50" x2="575.62" y2="491.70"/>
<line x1="593.03" y1="487.50" x2="593.03" y2="491.70"/>
<line x1="610.44" y1="487.50" x2="610.44" y2="491.70"/>
<line x1="627.85" y1="487.50" x2="627.85" y2="491.70"/>
<line x1="645.26" y1="487.50" x2="645.26" y2="491.70"/>
<line x1="662.67" y1="487.50" x2="662.67" y2="491.70"/>
<line x1="680.08" y1="487.50" x2="680.08" y2="491.70"/>
<line x1="697.49" y1="487.50" x2="697.49" y2="491.70"/>
<line x1="714.90" y1="487.50" x2="714.90" y2="491.70"/>
<line x1="731.81" y1="487.50" x2="731.81" y2="491.70"/>
<line x1="749.22" y1="487.50" x2="749.22" y2="491.70"/>
<line x1="766.63" y1="487.50" x2="766.63" y2="491.70"/>
<line x1="784.04" y1="487.50" x2="784.04" y2="491.70"/>
<line x1="801.45" y1="487.50" x2="801.45" y2="491.70"/>
<line x1="818.86" y1="487.50" x2="818.86" y2="491.70"/>
<line x1="836.27" y1="487.50" x2="836.27" y2="491.70"/>
<line x1="853.68" y1="487.50" x2="853.68" y2="491.70"/>
<line x1="871.09" y1="487.50" x2="871.09" y2="491.70"/>
<line x1="39.90" y1="69.40" x2="44.10" y2="69.40"/>
<line x1="39.90" y1="162.70" x2="44.10" y2="162.70"/>
<line x1="39.90" y1="255.30" x2="44.10" y2="255.30"/>
<line x1="39.90" y1="349.00" x2="44.10" y2="349.00"/>
<line x1="39.90" y1="440.70" x2="44.10" y2="440.70"/>
<line x1="955.90" y1="117.30" x2="960.20" y2="117.30"/>
<line x1="955.90" y1="215.60" x2="960.20" y2="215.60"/>
<line x1="955.90" y1="313.90" x2="960.20" y2="313.90"/>
<line x1="955.90" y1="412.20" x2="960.20" y2="412.20"/>
</g>
<g class="tk" text-anchor="middle">
<text x="52.81" y="505.85">1</text>
<text x="70.22" y="505.85">2</text>
<text x="87.63" y="505.85">3</text>
<text x="105.04" y="505.85">4</text>
<text x="122.45" y="505.85">5</text>
<text x="139.86" y="505.85">6</text>
<text x="157.27" y="505.85">7</text>
<text x="174.68" y="505.85">8</text>
<text x="192.09" y="505.85">9</text>
<text x="209.50" y="505.85">10</text>
<text x="226.91" y="505.85">11</text>
<text x="244.32" y="505.85">12</text>
<text x="261.73" y="505.85">13</text>
<text x="279.14" y="505.85">14</text>
<text x="296.55" y="505.85">15</text>
<text x="313.96" y="505.85">16</text>
<text x="331.37" y="505.85">17</text>
<text x="348.78" y="505.85">18</text>
<text x="366.19" y="505.85">19</text>
<text x="383.60" y="505.85">20</text>
<text x="401.01" y="505.85">21</text>
<text x="418.92" y="505.85">22</text>
<text x="436.33" y="505.85">23</text>
<text x="453.74" y="505.85">24</text>
<text x="471.16" y="505.85">25</text>
<text x="488.57" y="505.85">26</text>
<text x="505.98" y="505.85">27</text>
<text x="523.39" y="505.85">28</text>
<text x="540.80" y="505.85">29</text>
<text x="558.21" y="505.85">30</text>
<text x="575.62" y="505.85">31</text>
<text x="593.03" y="505.85">32</text>
<text x="610.44" y="505.85">33</text>
<text x="627.85" y="505.85">34</text>
<text x="645.26" y="505.85">35</text>
<text x="662.67" y="505.85">36</text>
<text x="680.08" y="505.85">37</text>
<text x="697.49" y="505.85">38</text>
<text x="714.90" y="505.85">39</text>
<text x="731.81" y="505.85">40</text>
<text x="749.22" y="505.85">41</text>
<text x="766.63" y="505.85">42</text>
<text x="784.04" y="505.85">43</text>
<text x="801.45" y="505.85">44</text>
<text x="818.86" y="505.85">45</text>
<text x="836.27" y="505.85">46</text>
<text x="853.68" y="505.85">47</text>
<text x="871.09" y="505.85">48</text>
<text transform="translate(32.90 70.40) rotate(-90)">1</text>
<text transform="translate(32.90 163.70) rotate(-90)">5</text>
<text transform="translate(32.90 256.30) rotate(-90)">9</text>
<text transform="translate(32.90 350.00) rotate(-90)">15</text>
<text transform="translate(31.40 441.70) rotate(-90)">21</text>
</g>
<g class="tk">
<text x="964.80" y="121.70">0.8</text>
<text x="964.80" y="220.00">0.6</text>
<text x="964.80" y="318.30">0.4</text>
<text x="964.80" y="416.60">0.2</text>
</g>
<text class="ti" text-anchor="middle" x="461.95" y="14.50">The First CSA Mod</text>
<text class="al" text-anchor="middle" x="461.95" y="527.20">Feature Map Channel Index</text>
<text class="al" text-anchor="middle" transform="translate(14.40 256.25) rotate(-90)">SNR Value (dB)</text>
<g stroke="#000" stroke-width="1">
<line x1="1079.48" y1="487.70" x2="1079.48" y2="491.90"/>
<line x1="1096.83" y1="487.70" x2="1096.83" y2="491.90"/>
<line x1="1114.19" y1="487.70" x2="1114.19" y2="491.90"/>
<line x1="1131.55" y1="487.70" x2="1131.55" y2="491.90"/>
<line x1="1148.90" y1="487.70" x2="1148.90" y2="491.90"/>
<line x1="1166.26" y1="487.70" x2="1166.26" y2="491.90"/>
<line x1="1183.62" y1="487.70" x2="1183.62" y2="491.90"/>
<line x1="1200.97" y1="487.70" x2="1200.97" y2="491.90"/>
<line x1="1218.33" y1="487.70" x2="1218.33" y2="491.90"/>
<line x1="1235.68" y1="487.70" x2="1235.68" y2="491.90"/>
<line x1="1253.04" y1="487.70" x2="1253.04" y2="491.90"/>
<line x1="1270.40" y1="487.70" x2="1270.40" y2="491.90"/>
<line x1="1287.75" y1="487.70" x2="1287.75" y2="491.90"/>
<line x1="1305.11" y1="487.70" x2="1305.11" y2="491.90"/>
<line x1="1322.47" y1="487.70" x2="1322.47" y2="491.90"/>
<line x1="1339.82" y1="487.70" x2="1339.82" y2="491.90"/>
<line x1="1357.18" y1="487.70" x2="1357.18" y2="491.90"/>
<line x1="1374.53" y1="487.70" x2="1374.53" y2="491.90"/>
<line x1="1391.89" y1="487.70" x2="1391.89" y2="491.90"/>
<line x1="1409.25" y1="487.70" x2="1409.25" y2="491.90"/>
<line x1="1426.60" y1="487.70" x2="1426.60" y2="491.90"/>
<line x1="1443.96" y1="487.70" x2="1443.96" y2="491.90"/>
<line x1="1461.32" y1="487.70" x2="1461.32" y2="491.90"/>
<line x1="1478.67" y1="487.70" x2="1478.67" y2="491.90"/>
<line x1="1496.73" y1="487.70" x2="1496.73" y2="491.90"/>
<line x1="1514.08" y1="487.70" x2="1514.08" y2="491.90"/>
<line x1="1531.44" y1="487.70" x2="1531.44" y2="491.90"/>
<line x1="1548.80" y1="487.70" x2="1548.80" y2="491.90"/>
<line x1="1566.15" y1="487.70" x2="1566.15" y2="491.90"/>
<line x1="1583.51" y1="487.70" x2="1583.51" y2="491.90"/>
<line x1="1600.87" y1="487.70" x2="1600.87" y2="491.90"/>
<line x1="1618.22" y1="487.70" x2="1618.22" y2="491.90"/>
<line x1="1635.58" y1="487.70" x2="1635.58" y2="491.90"/>
<line x1="1652.93" y1="487.70" x2="1652.93" y2="491.90"/>
<line x1="1670.29" y1="487.70" x2="1670.29" y2="491.90"/>
<line x1="1687.65" y1="487.70" x2="1687.65" y2="491.90"/>
<line x1="1705.00" y1="487.70" x2="1705.00" y2="491.90"/>
<line x1="1722.36" y1="487.70" x2="1722.36" y2="491.90"/>
<line x1="1739.72" y1="487.70" x2="1739.72" y2="491.90"/>
<line x1="1757.07" y1="487.70" x2="1757.07" y2="491.90"/>
<line x1="1774.43" y1="487.70" x2="1774.43" y2="491.90"/>
<line x1="1791.78" y1="487.70" x2="1791.78" y2="491.90"/>
<line x1="1809.74" y1="487.70" x2="1809.74" y2="491.90"/>
<line x1="1827.10" y1="487.70" x2="1827.10" y2="491.90"/>
<line x1="1844.45" y1="487.70" x2="1844.45" y2="491.90"/>
<line x1="1861.81" y1="487.70" x2="1861.81" y2="491.90"/>
<line x1="1877.87" y1="487.70" x2="1877.87" y2="491.90"/>
<line x1="1895.22" y1="487.70" x2="1895.22" y2="491.90"/>
<line x1="1066.60" y1="70.40" x2="1070.80" y2="70.40"/>
<line x1="1066.60" y1="163.40" x2="1070.80" y2="163.40"/>
<line x1="1066.60" y1="256.30" x2="1070.80" y2="256.30"/>
<line x1="1066.60" y1="349.00" x2="1070.80" y2="349.00"/>
<line x1="1066.60" y1="440.70" x2="1070.80" y2="440.70"/>
<line x1="1980.10" y1="115.30" x2="1984.40" y2="115.30"/>
<line x1="1980.10" y1="210.20" x2="1984.40" y2="210.20"/>
<line x1="1980.10" y1="305.10" x2="1984.40" y2="305.10"/>
<line x1="1980.10" y1="400.00" x2="1984.40" y2="400.00"/>
</g>
<g class="tk" text-anchor="middle">
<text x="1079.48" y="506.05">1</text>
<text x="1096.83" y="506.05">2</text>
<text x="1114.19" y="506.05">3</text>
<text x="1131.55" y="506.05">4</text>
<text x="1148.90" y="506.05">5</text>
<text x="1166.26" y="506.05">6</text>
<text x="1183.62" y="506.05">7</text>
<text x="1200.97" y="506.05">8</text>
<text x="1218.33" y="506.05">9</text>
<text x="1235.68" y="506.05">10</text>
<text x="1253.04" y="506.05">11</text>
<text x="1270.40" y="506.05">12</text>
<text x="1287.75" y="506.05">13</text>
<text x="1305.11" y="506.05">14</text>
<text x="1322.47" y="506.05">15</text>
<text x="1339.82" y="506.05">16</text>
<text x="1357.18" y="506.05">17</text>
<text x="1374.53" y="506.05">18</text>
<text x="1391.89" y="506.05">19</text>
<text x="1409.25" y="506.05">20</text>
<text x="1426.60" y="506.05">21</text>
<text x="1443.96" y="506.05">22</text>
<text x="1461.32" y="506.05">23</text>
<text x="1478.67" y="506.05">24</text>
<text x="1496.73" y="506.05">25</text>
<text x="1514.08" y="506.05">26</text>
<text x="1531.44" y="506.05">27</text>
<text x="1548.80" y="506.05">28</text>
<text x="1566.15" y="506.05">29</text>
<text x="1583.51" y="506.05">30</text>
<text x="1600.87" y="506.05">31</text>
<text x="1618.22" y="506.05">32</text>
<text x="1635.58" y="506.05">33</text>
<text x="1652.93" y="506.05">34</text>
<text x="1670.29" y="506.05">35</text>
<text x="1687.65" y="506.05">36</text>
<text x="1705.00" y="506.05">37</text>
<text x="1722.36" y="506.05">38</text>
<text x="1739.72" y="506.05">39</text>
<text x="1757.07" y="506.05">40</text>
<text x="1774.43" y="506.05">41</text>
<text x="1791.78" y="506.05">42</text>
<text x="1809.74" y="506.05">43</text>
<text x="1827.10" y="506.05">44</text>
<text x="1844.45" y="506.05">45</text>
<text x="1861.81" y="506.05">46</text>
<text x="1877.87" y="506.05">47</text>
<text x="1895.22" y="506.05">48</text>
<text transform="translate(1059.60 71.40) rotate(-90)">1</text>
<text transform="translate(1059.60 164.40) rotate(-90)">5</text>
<text transform="translate(1059.60 257.30) rotate(-90)">9</text>
<text transform="translate(1059.60 350.00) rotate(-90)">15</text>
<text transform="translate(1057.40 441.70) rotate(-90)">21</text>
</g>
<g class="tk">
<text x="1989.00" y="119.70">0.8</text>
<text x="1989.00" y="214.60">0.6</text>
<text x="1989.00" y="309.50">0.4</text>
<text x="1989.00" y="404.40">0.2</text>
</g>
<text class="ti" text-anchor="middle" x="1487.35" y="15.50">The Second CSA Mod</text>
<text class="al" text-anchor="middle" x="1487.35" y="527.40">Feature Map Channel Index</text>
<text class="al" text-anchor="middle" transform="translate(1039.80 256.85) rotate(-90)">SNR Value (dB)</text>
<text class="cap" text-anchor="middle" x="483.2" y="602.2">(a)</text>
<text class="cap" text-anchor="middle" x="1509.1" y="602.2">(b)</text>
</svg>
</body></html>
